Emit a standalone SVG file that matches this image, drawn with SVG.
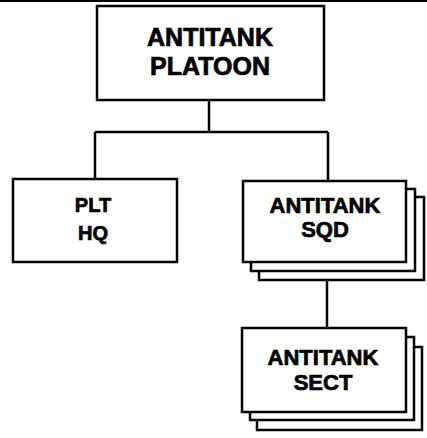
<svg xmlns="http://www.w3.org/2000/svg" width="427" height="438" viewBox="0 0 427 438">
<style>
.box{fill:#fff;stroke:#000;stroke-width:2.5}
.wire{fill:none;stroke:#000;stroke-width:2.5}
text{font-family:"Liberation Sans",Arial,sans-serif;font-weight:bold;fill:#000;stroke:#000;stroke-width:0.7;text-anchor:middle}
.t1{font-size:25px}
.t2{font-size:22px}
.t3{font-size:20px}
</style>
<rect width="427" height="438" fill="#fff"/>
<line x1="0" y1="1" x2="427" y2="1" stroke="#000" stroke-width="2"/>
<g id="connectors">
<path class="wire" d="M209,100 V132 M95,132 H328 M95,132 V179 M328,132 V181 M327,280 V328"/>
</g>
<g id="platoon">
<rect class="box" x="97" y="6" width="227" height="94"/>
<text class="t1" x="210" y="46">ANTITANK</text>
<text class="t1" x="210" y="75">PLATOON</text>
</g>
<g id="plthq">
<rect class="box" x="13" y="179" width="164" height="83"/>
<text class="t3" x="93" y="212">PLT</text>
<text class="t3" x="93" y="240">HQ</text>
</g>
<g id="sqd">
<rect class="box" x="259" y="197" width="165" height="83"/>
<rect class="box" x="251" y="189" width="164" height="82"/>
<rect class="box" x="243" y="181" width="163" height="81"/>
<text class="t2" x="325" y="213">ANTITANK</text>
<text class="t2" x="325" y="237">SQD</text>
</g>
<g id="sect">
<rect class="box" x="257" y="347" width="165" height="83"/>
<rect class="box" x="250" y="337" width="164" height="83"/>
<rect class="box" x="242" y="328" width="164" height="84"/>
<text class="t2" x="323" y="365">ANTITANK</text>
<text class="t2" x="323" y="390">SECT</text>
</g>
</svg>
